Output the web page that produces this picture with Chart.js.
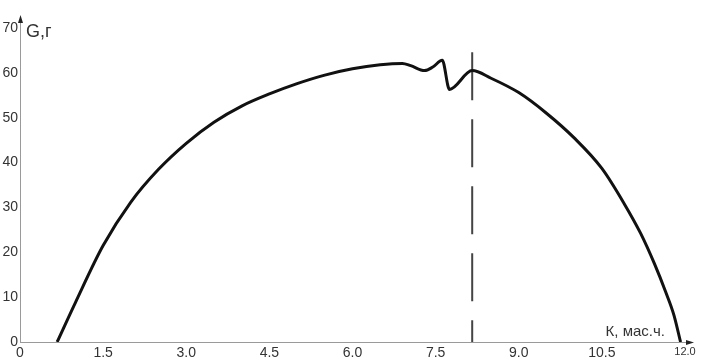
<!DOCTYPE html>
<html>
<head>
<meta charset="utf-8">
<script src="https://cdn.jsdelivr.net/npm/chart.js@4/dist/chart.umd.min.js"></script>
<style>
  html, body { margin: 0; padding: 0; background: #fff; }
  #wrap { width: 710px; height: 360px; }
</style>
</head>
<body>
<div id="wrap"><canvas id="gChart" width="710" height="360"></canvas></div>
<script>
// curve G(K)
const kValues = [0.67, 1.0, 1.5, 2.0, 2.5, 3.0, 3.5, 4.0, 4.5, 5.0, 5.5, 6.0, 6.5, 6.9, 7.05, 7.3, 7.45, 7.62, 7.75, 8.16, 8.5, 9.0, 9.5, 10.0, 10.5, 10.9, 11.2, 11.45, 11.65, 11.8, 11.92];
const gValues = [0, 8.8, 21.5, 31.2, 38.5, 44.3, 49, 52.6, 55.3, 57.6, 59.5, 60.9, 61.8, 62.1, 61.6, 60.5, 61.3, 62.8, 56.3, 60.5, 58.8, 55.6, 51, 45.5, 38.7, 30.9, 24.2, 17.4, 11.2, 6, 0];

// dashed marker line (top to bottom)
const markK = [8.16, 8.16];
const markG = [64.6, 0];

const xTicks = [0, 1.5, 3.0, 4.5, 6.0, 7.5, 9.0, 10.5, 12.0];
const yTicks = [0, 10, 20, 30, 40, 50, 60, 70];

const xTitle = 'К, мас.ч.';
const yTitle = 'G,г';

const axisColor = '#9a9a9a';
const textColor = '#333';

// arrows + axis names
const decor = {
    id: 'decor',
    afterDraw(chart) {
        const ctx = chart.ctx;
        const a = chart.chartArea;
        ctx.save();
        ctx.strokeStyle = axisColor;
        ctx.lineWidth = 1;
        ctx.beginPath();
        ctx.moveTo(a.left + 0.5, a.top);
        ctx.lineTo(a.left + 0.5, a.top - 10);
        ctx.moveTo(a.right, a.bottom + 0.5);
        ctx.lineTo(a.right + 6, a.bottom + 0.5);
        ctx.stroke();
        ctx.fillStyle = '#222';
        ctx.beginPath();
        ctx.moveTo(a.left + 0.5, a.top - 13);
        ctx.lineTo(a.left - 2, a.top - 5);
        ctx.lineTo(a.left + 3, a.top - 5);
        ctx.closePath();
        ctx.fill();
        ctx.beginPath();
        ctx.moveTo(a.right + 9, a.bottom + 0.5);
        ctx.lineTo(a.right + 1, a.bottom - 2);
        ctx.lineTo(a.right + 1, a.bottom + 3);
        ctx.closePath();
        ctx.fill();

        ctx.fillStyle = textColor;
        ctx.font = '18px "Liberation Sans", Arial, sans-serif';
        ctx.textBaseline = 'middle';
        ctx.textAlign = 'left';
        ctx.fillText(yTitle, a.left + 6, a.top + 4);
        ctx.font = '15px "Liberation Sans", Arial, sans-serif';
        ctx.textAlign = 'right';
        ctx.textBaseline = 'alphabetic';
        ctx.fillText(xTitle, a.right - 20, a.bottom - 6);
        ctx.restore();
    }
};

new Chart(document.getElementById('gChart'), {
    type: 'scatter',
    data: {
        datasets: [{
            data: kValues.map((k, i) => ({ x: k, y: gValues[i] })),
            showLine: true,
            borderColor: '#111',
            borderWidth: 3,
            pointRadius: 0,
            cubicInterpolationMode: 'monotone',
            fill: false
        }, {
            data: markK.map((k, i) => ({ x: k, y: markG[i] })),
            showLine: true,
            borderColor: '#444',
            borderWidth: 2,
            borderDash: [48, 19],
            pointRadius: 0,
            fill: false
        }]
    },
    options: {
        responsive: false,
        animation: false,
        layout: { padding: { top: 28, right: 25, left: 0, bottom: 0 } },
        plugins: { legend: { display: false }, tooltip: { enabled: false } },
        scales: {
            x: {
                type: 'linear',
                min: 0,
                max: 12,
                afterBuildTicks: s => { s.ticks = xTicks.map(v => ({ value: v })); },
                afterFit: s => { s.height = 18; },
                grid: { display: false, drawTicks: true, tickLength: 2, color: axisColor },
                border: { color: axisColor, width: 1 },
                ticks: {
                    padding: 1,
                    color: textColor,
                    maxRotation: 0,
                    font: ctx => ({ family: '"Liberation Sans", Arial, sans-serif', size: ctx.tick && ctx.tick.value === 12 ? 11 : 14 }),
                    callback: v => v === 0 ? '0' : v.toFixed(1)
                }
            },
            y: {
                type: 'linear',
                min: 0,
                max: 70,
                afterBuildTicks: s => { s.ticks = yTicks.map(v => ({ value: v })); },
                afterFit: s => { s.width = 20; },
                grid: { display: false, drawTicks: true, tickLength: 2, color: axisColor },
                border: { color: axisColor, width: 1 },
                ticks: {
                    padding: 0,
                    color: textColor,
                    font: { family: '"Liberation Sans", Arial, sans-serif', size: 14 }
                }
            }
        }
    },
    plugins: [decor]
});
</script>
</body>
</html>
